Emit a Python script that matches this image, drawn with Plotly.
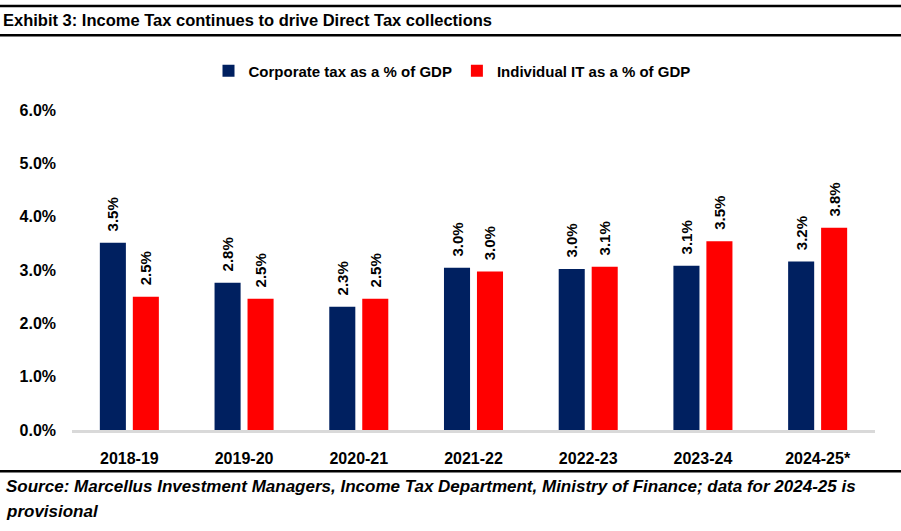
import plotly.graph_objects as go

categories = ["2018-19", "2019-20", "2020-21", "2021-22", "2022-23", "2023-24", "2024-25*"]
corporate = [3.51, 2.76, 2.31, 3.04, 3.02, 3.08, 3.16]
individual = [2.50, 2.46, 2.46, 2.97, 3.06, 3.54, 3.79]
y_ticks = [0, 1, 2, 3, 4, 5, 6]
y_tick_text = ["0.0%", "1.0%", "2.0%", "3.0%", "4.0%", "5.0%", "6.0%"]

W, H = 901, 531
ML, MR, MT, MB = 72, 26, 110, 100.5
PW, PH = W - ML - MR, H - MT - MB

def px_x(p):
    return (p - ML) / PW

def px_y(p):
    return (H - MB - p) / PH

FONT = "Liberation Sans, Arial, sans-serif"
NAVY = "#002060"
RED = "#FF0000"

fig = go.Figure()
for name, vals, col in [("Corporate tax as a % of GDP", corporate, NAVY),
                        ("Individual IT as a % of GDP", individual, RED)]:
    fig.add_trace(go.Bar(
        name=name, x=categories, y=vals, marker=dict(color=col, line=dict(width=0)),
        texttemplate="\u00a0\u00a0%{y:.1f}%", textposition="outside", textangle=-90,
        textfont=dict(family=FONT, size=15, color="black", weight="bold"),
        constraintext="none", cliponaxis=False,
    ))

line_style = dict(color="black", width=2.5)
shapes = []
for yp in [5.8, 35.2, 471.7]:
    shapes.append(dict(type="line", xref="paper", yref="paper",
                       x0=px_x(0), x1=px_x(W), y0=px_y(yp), y1=px_y(yp), line=line_style))

src_font = dict(family=FONT, size=17, color="black", style="italic", weight="bold")
annotations = [
    dict(text="Source: Marcellus Investment Managers, Income Tax Department, Ministry of Finance; data for 2024-25 is",
         xref="paper", yref="paper", x=px_x(4), y=px_y(487), xanchor="left", yanchor="middle",
         showarrow=False, font=src_font),
    dict(text="provisional", xref="paper", yref="paper", x=px_x(4), y=px_y(512),
         xanchor="left", yanchor="middle", showarrow=False, font=src_font),
]

fig.update_layout(
    width=W, height=H,
    margin=dict(l=ML, r=MR, t=MT, b=MB, pad=0),
    paper_bgcolor="white", plot_bgcolor="white",
    barmode="group", bargap=0.425, bargroupgap=0.21,
    title=dict(text="<b>Exhibit 3: Income Tax continues to drive Direct Tax collections</b>",
               x=3 / W, xref="container", xanchor="left",
               y=1 - 20.5 / H, yref="container", yanchor="middle",
               font=dict(family=FONT, size=16.5, color="black")),
    legend=dict(orientation="h", x=px_x(452), xanchor="center", y=px_y(71), yanchor="middle",
                font=dict(family=FONT, size=15, color="black", weight="bold"),
                itemwidth=30, traceorder="normal", bgcolor="rgba(0,0,0,0)"),
    xaxis=dict(showline=True, linecolor="#d9d9d9", linewidth=2.5, showgrid=False,
               ticks="", ticklabelstandoff=12, zeroline=False,
               tickfont=dict(family=FONT, size=16, color="black", weight="bold")),
    yaxis=dict(range=[0, 6], tickvals=y_ticks, ticktext=y_tick_text, showgrid=False,
               zeroline=False, showline=False, ticks="", ticklabelstandoff=15,
               tickfont=dict(family=FONT, size=16, color="black", weight="bold")),
    shapes=shapes, annotations=annotations, showlegend=True,
)

fig.write_html("out.html", config={"displayModeBar": False},
               post_script="document.body.style.margin='0';")
